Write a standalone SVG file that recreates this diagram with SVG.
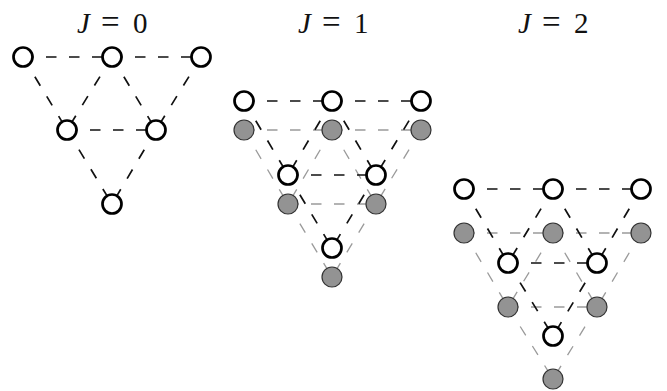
<svg xmlns="http://www.w3.org/2000/svg" width="667" height="391" viewBox="0 0 667 391">
<style>
.t{font-family:"Liberation Serif","Times New Roman",serif;font-size:29px;fill:#111}
.eq{font-size:33px}
.k{stroke:#111;stroke-width:1.7;stroke-dasharray:10.5,12.5;fill:none}
.g{stroke:#9a9a9a;stroke-width:1.3;stroke-dasharray:10.5,12.5;fill:none}
.w{fill:#fff;stroke:#000;stroke-width:2.7}
.f{fill:#939393;stroke:#333;stroke-width:1.2}
</style>
<rect width="667" height="391" fill="#fff"/>
<g id="labels">
<text class="t" y="33"><tspan x="77" font-style="italic">J</tspan><tspan x="101" class="eq">=</tspan><tspan x="133">0</tspan></text>
<text class="t" y="33"><tspan x="298" font-style="italic">J</tspan><tspan x="322" class="eq">=</tspan><tspan x="354">1</tspan></text>
<text class="t" y="33"><tspan x="518" font-style="italic">J</tspan><tspan x="542" class="eq">=</tspan><tspan x="574">2</tspan></text>
</g>
<g id="connectors">
<g class="g">
<line x1="244" y1="130" x2="332" y2="130"/><line x1="332" y1="130" x2="421" y2="130"/>
<line x1="288" y1="204" x2="376" y2="204"/>
<line x1="244" y1="130" x2="288" y2="204"/><line x1="332" y1="130" x2="288" y2="204"/>
<line x1="332" y1="130" x2="376" y2="204"/><line x1="421" y1="130" x2="376" y2="204"/>
<line x1="288" y1="204" x2="332" y2="277"/><line x1="376" y1="204" x2="332" y2="277"/>
</g>
<g class="g">
<line x1="464" y1="233" x2="553" y2="233"/><line x1="553" y1="233" x2="641" y2="233"/>
<line x1="508" y1="307" x2="597" y2="307"/>
<line x1="464" y1="233" x2="508" y2="307"/><line x1="553" y1="233" x2="508" y2="307"/>
<line x1="553" y1="233" x2="597" y2="307"/><line x1="641" y1="233" x2="597" y2="307"/>
<line x1="508" y1="307" x2="553" y2="379"/><line x1="597" y1="307" x2="553" y2="379"/>
</g>
<g class="k">
<line x1="23" y1="57" x2="112" y2="57"/><line x1="112" y1="57" x2="201" y2="57"/>
<line x1="67" y1="130" x2="156" y2="130"/>
<line x1="23" y1="57" x2="67" y2="130"/><line x1="112" y1="57" x2="67" y2="130"/>
<line x1="112" y1="57" x2="156" y2="130"/><line x1="201" y1="57" x2="156" y2="130"/>
<line x1="67" y1="130" x2="112" y2="204"/><line x1="156" y1="130" x2="112" y2="204"/>
</g>
<g class="k">
<line x1="244" y1="101" x2="332" y2="101"/><line x1="332" y1="101" x2="421" y2="101"/>
<line x1="288" y1="175" x2="376" y2="175"/>
<line x1="244" y1="101" x2="288" y2="175"/><line x1="332" y1="101" x2="288" y2="175"/>
<line x1="332" y1="101" x2="376" y2="175"/><line x1="421" y1="101" x2="376" y2="175"/>
<line x1="288" y1="175" x2="332" y2="248"/><line x1="376" y1="175" x2="332" y2="248"/>
</g>
<g class="k">
<line x1="464" y1="189" x2="553" y2="189"/><line x1="553" y1="189" x2="641" y2="189"/>
<line x1="508" y1="263" x2="597" y2="263"/>
<line x1="464" y1="189" x2="508" y2="263"/><line x1="553" y1="189" x2="508" y2="263"/>
<line x1="553" y1="189" x2="597" y2="263"/><line x1="641" y1="189" x2="597" y2="263"/>
<line x1="508" y1="263" x2="553" y2="336"/><line x1="597" y1="263" x2="553" y2="336"/>
</g>
</g>
<g id="j0">
<g id="j0-a"><circle class="w" cx="23" cy="57" r="9.5"/></g>
<g id="j0-b"><circle class="w" cx="112" cy="57" r="9.5"/></g>
<g id="j0-c"><circle class="w" cx="201" cy="57" r="9.5"/></g>
<g id="j0-d"><circle class="w" cx="67" cy="130" r="9.5"/></g>
<g id="j0-e"><circle class="w" cx="156" cy="130" r="9.5"/></g>
<g id="j0-f"><circle class="w" cx="112" cy="204" r="9.5"/></g>
</g>
<g id="j1">
<g id="j1-ga"><circle class="f" cx="244" cy="130" r="10"/></g>
<g id="j1-gb"><circle class="f" cx="332" cy="130" r="10"/></g>
<g id="j1-gc"><circle class="f" cx="421" cy="130" r="10"/></g>
<g id="j1-gd"><circle class="f" cx="288" cy="204" r="10"/></g>
<g id="j1-ge"><circle class="f" cx="376" cy="204" r="10"/></g>
<g id="j1-gf"><circle class="f" cx="332" cy="277" r="10"/></g>
<g id="j1-a"><circle class="w" cx="244" cy="101" r="9.5"/></g>
<g id="j1-b"><circle class="w" cx="332" cy="101" r="9.5"/></g>
<g id="j1-c"><circle class="w" cx="421" cy="101" r="9.5"/></g>
<g id="j1-d"><circle class="w" cx="288" cy="175" r="9.5"/></g>
<g id="j1-e"><circle class="w" cx="376" cy="175" r="9.5"/></g>
<g id="j1-f"><circle class="w" cx="332" cy="248" r="9.5"/></g>
</g>
<g id="j2">
<g id="j2-ga"><circle class="f" cx="464" cy="233" r="10"/></g>
<g id="j2-gb"><circle class="f" cx="553" cy="233" r="10"/></g>
<g id="j2-gc"><circle class="f" cx="641" cy="233" r="10"/></g>
<g id="j2-gd"><circle class="f" cx="508" cy="307" r="10"/></g>
<g id="j2-ge"><circle class="f" cx="597" cy="307" r="10"/></g>
<g id="j2-gf"><circle class="f" cx="553" cy="379" r="10"/></g>
<g id="j2-a"><circle class="w" cx="464" cy="189" r="9.5"/></g>
<g id="j2-b"><circle class="w" cx="553" cy="189" r="9.5"/></g>
<g id="j2-c"><circle class="w" cx="641" cy="189" r="9.5"/></g>
<g id="j2-d"><circle class="w" cx="508" cy="263" r="9.5"/></g>
<g id="j2-e"><circle class="w" cx="597" cy="263" r="9.5"/></g>
<g id="j2-f"><circle class="w" cx="553" cy="336" r="9.5"/></g>
</g>
</svg>
